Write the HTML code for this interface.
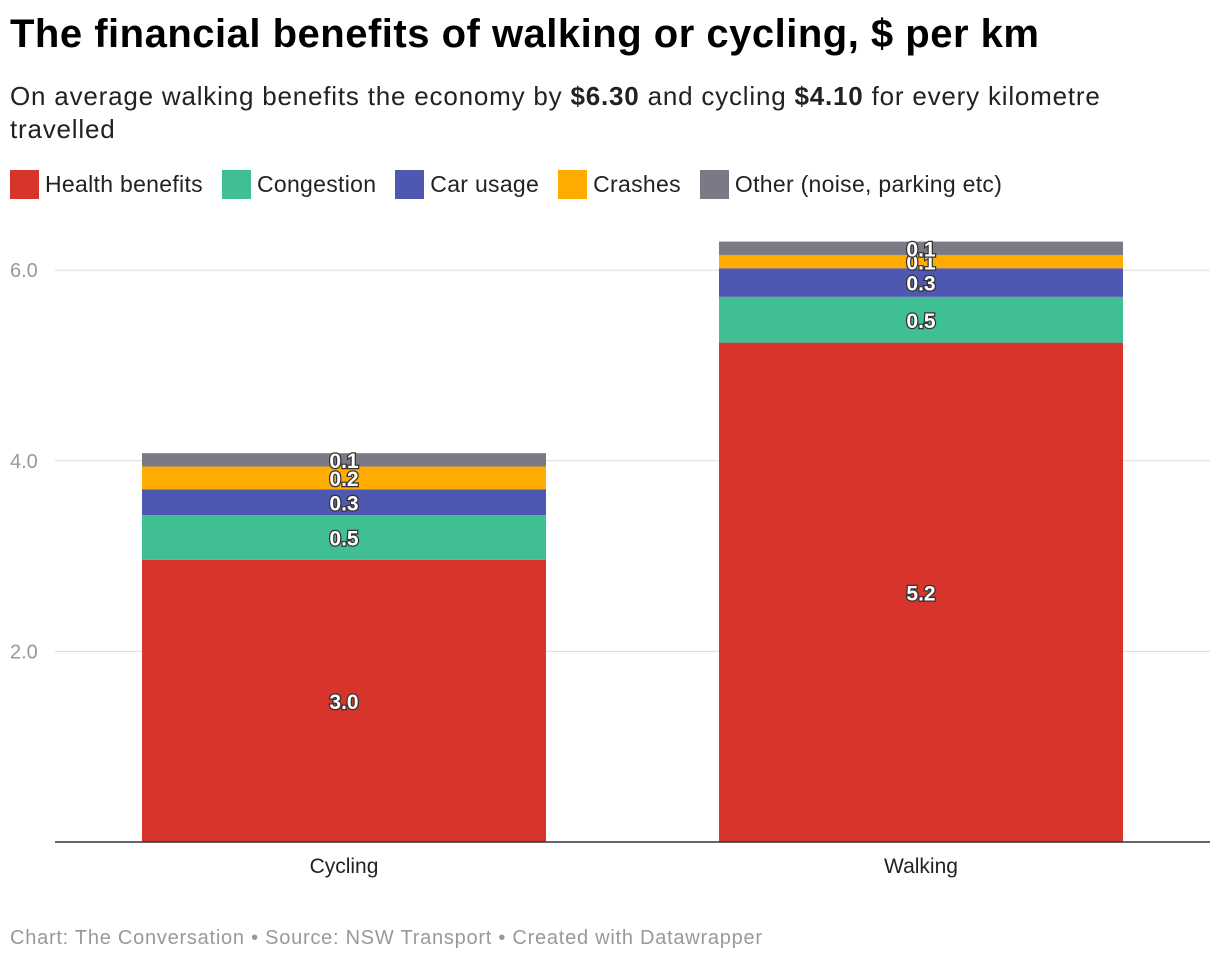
<!DOCTYPE html>
<html><head><meta charset="utf-8"><style>
body{margin:0;width:1220px;height:964px;background:#fff;font-family:"Liberation Sans",sans-serif;position:relative;overflow:hidden}
.t{position:absolute;left:10px;top:12px;font-size:40px;font-weight:bold;color:#000;margin:0;letter-spacing:0.5px;white-space:nowrap}
.s{position:absolute;left:10px;top:80px;font-size:26px;color:#222;line-height:33px;width:1120px;letter-spacing:0.8px}
.lg{position:absolute;left:10px;top:170px;display:flex;font-size:23px;color:#222;letter-spacing:0.3px}
.li{display:flex;align-items:center;margin-right:19px}
.sw{width:29px;height:29px;margin-right:6px}
.f{position:absolute;left:10px;top:927px;font-size:20px;color:#999;letter-spacing:0.75px;white-space:nowrap}
</style></head><body>
<h1 class="t">The financial benefits of walking or cycling, $ per km</h1>
<div class="s">On average walking benefits the economy by <b>$6.30</b> and cycling <b>$4.10</b> for every kilometre travelled</div>
<div class="lg">
<div class="li"><div class="sw" style="background:#d7352b"></div>Health benefits</div>
<div class="li"><div class="sw" style="background:#3fbf92"></div>Congestion</div>
<div class="li"><div class="sw" style="background:#4f58b0"></div>Car usage</div>
<div class="li"><div class="sw" style="background:#ffab00"></div>Crashes</div>
<div class="li"><div class="sw" style="background:#7a7a86"></div>Other (noise, parking etc)</div>
</div>
<svg id="c" width="1220" height="964" style="position:absolute;left:0;top:0"></svg>
<div class="f">Chart: The Conversation • Source: NSW Transport • Created with Datawrapper</div>
<script>
const categories=["Cycling","Walking"];
const seriesNames=["Health benefits","Congestion","Car usage","Crashes","Other"];
const health=[2.96,5.24];
const congestion=[0.47,0.48];
const carUsage=[0.27,0.30];
const crashes=[0.24,0.14];
const other=[0.14,0.14];
const yTicks=[2,4,6];
const colors=["#d7352b","#3fbf92","#4f58b0","#ffab00","#7a7a86"];
const series=[health,congestion,carUsage,crashes,other];
const svg=document.getElementById('c');
const NS="http://www.w3.org/2000/svg";
const y0=842,pxPer=95.3;
const y=v=>y0-v*pxPer;
const bandX=[142,719],bw=404;
function mk(t,a){const e=document.createElementNS(NS,t);for(const k in a)e.setAttribute(k,a[k]);svg.appendChild(e);return e;}
yTicks.forEach(v=>{
 const l=mk('line',{x1:55,x2:1210,y1:y(v),y2:y(v),stroke:'#ddd','stroke-width':1});
 
 
 const t=mk('text',{x:10,y:y(v)+7,'font-size':20,fill:'#999','font-family':'Liberation Sans'});
 t.textContent=v.toFixed(1);
 
 
});
categories.forEach((c,i)=>{
 let acc=0;
 series.forEach((s,j)=>{
  const v=s[i];
  const r=mk('rect',{x:bandX[i],width:bw,y:y(acc+v),height:v*pxPer,fill:colors[j]});
  
  
  const t=mk('text',{x:bandX[i]+bw/2,y:y(acc+v/2)+8,'text-anchor':'middle','font-size':21,'font-weight':'bold',fill:'#fff',stroke:'#333','stroke-width':2.5,'paint-order':'stroke','font-family':'Liberation Sans'});
  t.textContent=v.toFixed(1);
  
  
  acc+=v;
 });
 const t=mk('text',{x:bandX[i]+bw/2,y:873,'text-anchor':'middle','font-size':21,fill:'#222','font-family':'Liberation Sans'});
 t.textContent=c;
 
 
});
const b=mk('line',{x1:55,x2:1210,y1:y0,y2:y0,stroke:'#333','stroke-width':1.5});


</script>
</body></html>
